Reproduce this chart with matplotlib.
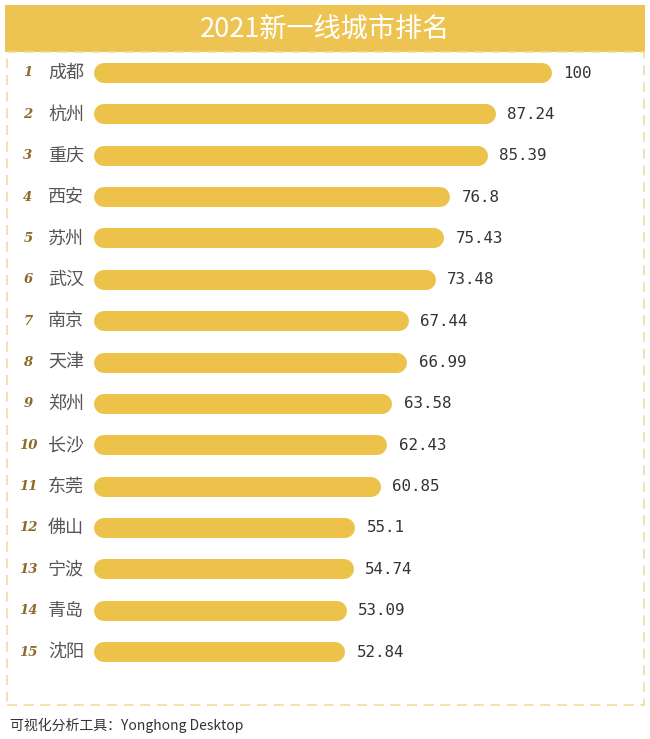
import matplotlib.pyplot as plt
from matplotlib.patches import Rectangle

plt.rcParams['font.family'] = ['Noto Sans CJK SC', 'DejaVu Sans']

title = '2021新一线城市排名'
cities = ['成都', '杭州', '重庆', '西安', '苏州', '武汉', '南京', '天津',
          '郑州', '长沙', '东莞', '佛山', '宁波', '青岛', '沈阳']
scores = [100, 87.24, 85.39, 76.8, 75.43, 73.48, 67.44, 66.99,
          63.58, 62.43, 60.85, 55.1, 54.74, 53.09, 52.84]
score_labels = ['100', '87.24', '85.39', '76.8', '75.43', '73.48', '67.44', '66.99',
                '63.58', '62.43', '60.85', '55.1', '54.74', '53.09', '52.84']
footer = '可视化分析工具：Yonghong Desktop'

W, H, DPI = 650, 739, 100
BAR_COLOR = '#ECC24A'
BAR_PX = 20          # bar thickness in pixels
px_per_unit = 4.38   # x scale: pixels per score unit
x0_px = 104          # pixel where score 0 sits (cap extends left of it)
row0_px, row_step = 73, 41.36

fig = plt.figure(figsize=(W / DPI, H / DPI), dpi=DPI)
fig.patch.set_facecolor('white')

ax = fig.add_axes([0, 0, 1, 1])
ax.set_xlim(-x0_px / px_per_unit, (W - x0_px) / px_per_unit)
ax.set_ylim((H - row0_px) / row_step, -row0_px / row_step)
ax.set_axis_off()

lw_pt = BAR_PX * 72 / DPI
for i, (city, v, lab) in enumerate(zip(cities, scores, score_labels)):
    ax.plot([0, v], [i, i], color=BAR_COLOR, lw=lw_pt, solid_capstyle='round')
    ax.annotate(lab, (v, i), xytext=(lw_pt / 2 + 8, 0), textcoords='offset points',
                ha='left', va='center', fontsize=11.4, color='#333333',
                family='DejaVu Sans Mono')
    ax.annotate(city, (0, i), xytext=(-56 * 72 / DPI, 0), textcoords='offset points',
                ha='left', va='center', fontsize=13, color='#555555')
    ax.annotate(str(i + 1), (0, i), xytext=(-76 * 72 / DPI, 0), textcoords='offset points',
                ha='center', va='center', fontsize=9.5, color='#8C6A2A',
                family='DejaVu Serif', style='italic', weight='bold')

# title banner
fig.patches.append(Rectangle((5 / W, 1 - 52 / H), 640 / W, 47 / H,
                             transform=fig.transFigure, facecolor='#EDC452',
                             edgecolor='none', zorder=0))
fig.text(0.5, 1 - 29 / H, title, ha='center', va='center', fontsize=19.5,
         color='white')

# dashed frame
fig.patches.append(Rectangle((7 / W, 1 - 705 / H), 637 / W, 653 / H,
                             transform=fig.transFigure, facecolor='none',
                             edgecolor='#F1DCA0', lw=1.2, ls=(0, (6, 4)), zorder=0))

fig.text(10 / W, 1 - 725 / H, footer, ha='left', va='center', fontsize=10,
         color='#333333')

fig.savefig('out.png', dpi=DPI)
